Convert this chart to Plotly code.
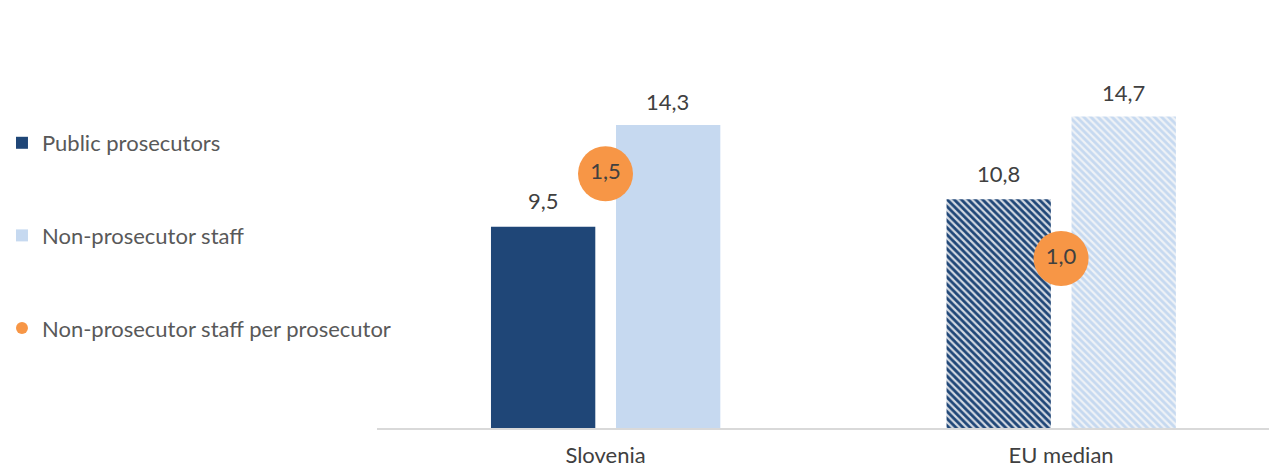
import plotly.graph_objects as go

categories = ["Slovenia", "EU median"]
public_prosecutors = [9.5, 10.8]
non_prosecutor_staff = [14.3, 14.7]
staff_per_prosecutor = [1.5, 1.0]

x_pos = [0, 1]
DARK = "#1F4677"
LIGHT = "#C6D9F0"
ORANGE = "#F79646"
TXT = "#404040"
FONT = "Lato"


def fmt(v):
    return f"{v:.1f}".replace(".", ",")


fig = go.Figure()

fig.add_trace(go.Bar(
    x=x_pos, y=public_prosecutors, name="Public prosecutors",
    width=0.229, offset=-0.2514,
    marker=dict(color=DARK, line=dict(width=0),
                pattern=dict(shape=["", "\\"], fgcolor=DARK, bgcolor="#D3D9E2",
                             size=5, solidity=0.55, fillmode="replace")),
    legendgroup="a", hoverinfo="skip",
))
fig.add_trace(go.Bar(
    x=x_pos, y=non_prosecutor_staff, name="Non-prosecutor staff",
    width=0.229, offset=0.023,
    marker=dict(color=LIGHT, line=dict(width=0),
                pattern=dict(shape=["", "\\"], fgcolor=LIGHT, bgcolor="#EEF2F7",
                             size=5, solidity=0.55, fillmode="replace")),
    legendgroup="b", hoverinfo="skip",
))
fig.add_trace(go.Scatter(
    x=x_pos, y=staff_per_prosecutor, name="Non-prosecutor staff per prosecutor",
    mode="markers+text", yaxis="y2",
    marker=dict(color=ORANGE, size=55, line=dict(width=0)),
    text=[fmt(v) for v in staff_per_prosecutor],
    textposition="middle center",
    textfont=dict(family=FONT, size=22, color=TXT),
    legendgroup="c", hoverinfo="skip",
))

annotations = []
for xi, v in zip(x_pos, public_prosecutors):
    annotations.append(dict(x=xi - 0.137, y=v, xref="x", yref="y", text=fmt(v),
                            showarrow=False, yanchor="middle", yshift=26,
                            font=dict(family=FONT, size=22, color=TXT)))
for xi, v in zip(x_pos, non_prosecutor_staff):
    annotations.append(dict(x=xi + 0.137, y=v, xref="x", yref="y", text=fmt(v),
                            showarrow=False, yanchor="middle", yshift=24,
                            font=dict(family=FONT, size=22, color=TXT)))

fig.update_layout(
    width=1269, height=461,
    margin=dict(l=369, r=0, t=81, b=41, autoexpand=False),
    paper_bgcolor="white", plot_bgcolor="white",
    font=dict(family=FONT, size=22, color=TXT),
    showlegend=True,
    legend=dict(x=-0.4167, xanchor="left", y=0.9027, yanchor="top",
                traceorder="grouped", tracegroupgap=61, itemsizing="constant",
                font=dict(family=FONT, size=22, color="#595959"),
                bgcolor="rgba(0,0,0,0)"),
    xaxis=dict(range=[-0.5016, 1.474], tickvals=x_pos, ticktext=categories,
               showgrid=False, zeroline=False, showline=True, linecolor="#D9D9D9",
               linewidth=2, ticks="", ticklabelstandoff=7,
               tickfont=dict(family=FONT, size=22, color=TXT)),
    yaxis=dict(range=[0, 16], visible=False, showgrid=False),
    yaxis2=dict(range=[0, 2], overlaying="y", visible=False, showgrid=False),
    annotations=annotations,
)

fig.write_html("out.html")
